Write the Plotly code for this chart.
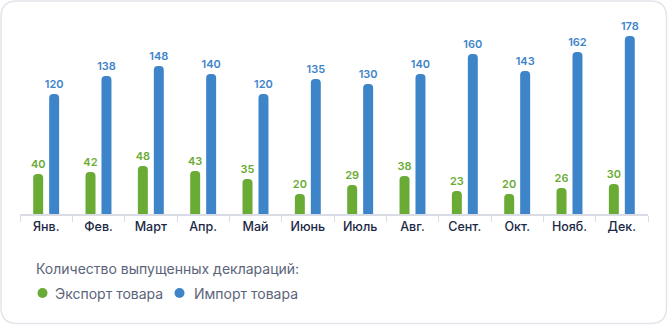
import plotly.graph_objects as go

months = ["Янв.", "Фев.", "Март", "Апр.", "Май", "Июнь", "Июль", "Авг.", "Сент.", "Окт.", "Нояб.", "Дек."]
export_vals = [40, 42, 48, 43, 35, 20, 29, 38, 23, 20, 26, 30]
import_vals = [120, 138, 148, 140, 120, 135, 130, 140, 160, 143, 162, 178]
series_names = ["Экспорт товара", "Импорт товара"]
legend_title = "Количество выпущенных деклараций:"

GREEN = "#6aab35"
BLUE = "#3e84c9"
LEG_COL = "#5b6479"
FONT = "Inter, Roboto, sans-serif"

W, H = 668, 325
L, R, T, B = 20, 20, 20, 111
PW, PH = W - L - R, H - T - B


def px(x):
    return (x - L) / PW


def py(y):
    return (H - B - y) / PH


fig = go.Figure()
for name, vals, col in [(series_names[0], export_vals, GREEN), (series_names[1], import_vals, BLUE)]:
    fig.add_trace(go.Bar(
        x=months, y=vals, name=name, marker=dict(color=col, line=dict(width=0)),
        text=vals, textposition="outside", cliponaxis=False, constraintext="none",
        textfont=dict(family=FONT, size=11, color=col, weight=600),
        showlegend=False, hoverinfo="x+y",
    ))

# card outline (rounded rectangle)
x0, x1, y0, y1, r = 1, 666.5, 1, 323.5, 16
rx, ry = r / PW, r / PH
X0, X1, Y0, Y1 = px(x0), px(x1), py(y0), py(y1)
path = (f"M {X0+rx},{Y0} L {X1-rx},{Y0} Q {X1},{Y0} {X1},{Y0-ry} "
        f"L {X1},{Y1+ry} Q {X1},{Y1} {X1-rx},{Y1} L {X0+rx},{Y1} "
        f"Q {X0},{Y1} {X0},{Y1+ry} L {X0},{Y0-ry} Q {X0},{Y0} {X0+rx},{Y0} Z")
shapes = [dict(type="path", path=path, xref="paper", yref="paper",
               line=dict(color="#e3e5ea", width=1.5), fillcolor="white", layer="below")]

# custom legend (circle swatches + labels)
annotations = [dict(text=legend_title, xref="paper", yref="paper", x=px(34), y=py(268),
                    xanchor="left", yanchor="middle", showarrow=False,
                    font=dict(family=FONT, size=14, color=LEG_COL))]
legend_pos = [(42.5, 53), (179.5, 192)]
for (cx, tx), name, col in zip(legend_pos, series_names, [GREEN, BLUE]):
    shapes.append(dict(type="circle", xref="paper", yref="paper",
                       xsizemode="pixel", ysizemode="pixel",
                       xanchor=px(cx), yanchor=py(293), x0=-5, x1=5, y0=-5, y1=5,
                       fillcolor=col, line=dict(width=0)))
    annotations.append(dict(text=name, xref="paper", yref="paper", x=px(tx), y=py(293),
                            xanchor="left", yanchor="middle", showarrow=False,
                            font=dict(family=FONT, size=14, color=LEG_COL)))

fig.update_layout(
    width=W, height=H,
    margin=dict(l=L, r=R, t=T, b=B, pad=0),
    paper_bgcolor="white", plot_bgcolor="rgba(0,0,0,0)",
    barmode="group", bargap=0.39, bargroupgap=0.375, barcornerradius=5,
    font=dict(family=FONT, color=LEG_COL),
    shapes=shapes, annotations=annotations, showlegend=False,
    xaxis=dict(
        type="category", showgrid=False, zeroline=False,
        showline=True, linecolor="#d9dce4", linewidth=1.5,
        ticks="outside", tickson="boundaries", ticklen=6, tickcolor="#d9dce4", tickwidth=1,
        tickfont=dict(family=FONT, size=12.5, color="#1c2846", weight=500),
        fixedrange=True,
    ),
    yaxis=dict(range=[0, PH], visible=False, fixedrange=True),
)

fig.write_html("out.html")
